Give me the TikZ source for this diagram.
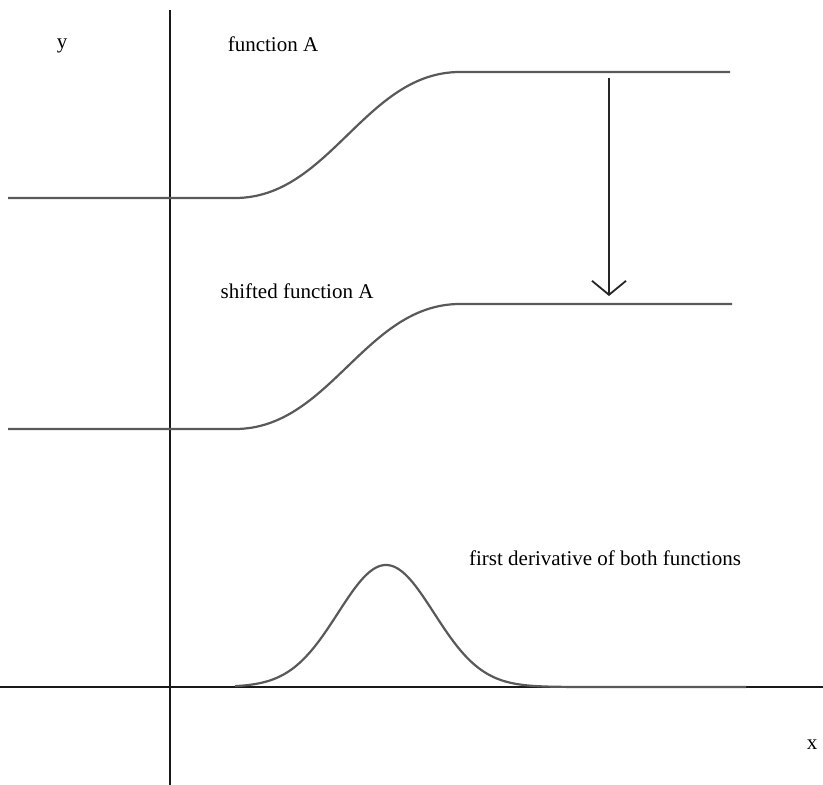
\documentclass[tikz,border=0pt]{standalone}
\usepackage{fontspec}
\setmainfont{Liberation Serif}
\usepackage{tikz}
\usetikzlibrary{arrows.meta}
\newcommand{\lowA}{198}
\newcommand{\highA}{72}
\newcommand{\lowB}{429}
\newcommand{\highB}{304}
\newcommand{\baseY}{687}
\tikzset{
  % --- lines ---
  axis/.style       = {line width=1pt, black!90},
  curve/.style      = {line width=1.1pt, black!65},
  shiftarrow/.style = {-{Straight Barb[length=7pt, width=17pt, line width=0.9pt]},
                       line width=0.9pt, black!85},
  % --- labels ---
  lbl/.style        = {font=\fontsize{10.5}{12}\selectfont, inner sep=0pt},
}

\begin{document}
\begin{tikzpicture}[x=0.5pt, y=-0.5pt]
  \useasboundingbox (0,0) rectangle (823,785);

  % ===================================================================
  %  AXES
  % ===================================================================
  \coordinate (ytop) at (170, 10);
  \coordinate (ybot) at (170, 785);
  \coordinate (xl)   at (0, \baseY);
  \coordinate (xr)   at (823, \baseY);
  \draw[axis] (ytop) -- (ybot);
  \draw[axis] (xl) -- (xr);

  \node[lbl] (ylab) at (62, 46)  {y};
  \node[lbl] (xlab) at (812, 745) {x};

  % ===================================================================
  %  FUNCTION A AND ITS SHIFTED COPY
  % ===================================================================
  \draw[curve] (8,\lowA) -- (235,\lowA)
    .. controls (330,\lowA) and (365,\highA) .. (460,\highA) -- (730,\highA);
  \draw[curve] (8,\lowB) -- (235,\lowB)
    .. controls (330,\lowB) and (365,\highB) .. (460,\highB) -- (732,\highB);

  \node[lbl] (fa)  at (273, 44)  {function A};
  \node[lbl] (sfa) at (297, 291) {shifted function A};

  % --- shift arrow ---
  \coordinate (sfrom) at (609, 78);
  \coordinate (sto)   at (609, 296);
  \draw[shiftarrow] (sfrom) -- (sto);

  % ===================================================================
  %  DERIVATIVE (bell)
  % ===================================================================
  \draw[curve] plot[domain=235:746, samples=200, smooth]
    (\x, {\baseY - 122*exp(-((\x-386)/48)^2/2)});

  \node[lbl] (der) at (605, 558) {first derivative of both functions};

\end{tikzpicture}
\end{document}
